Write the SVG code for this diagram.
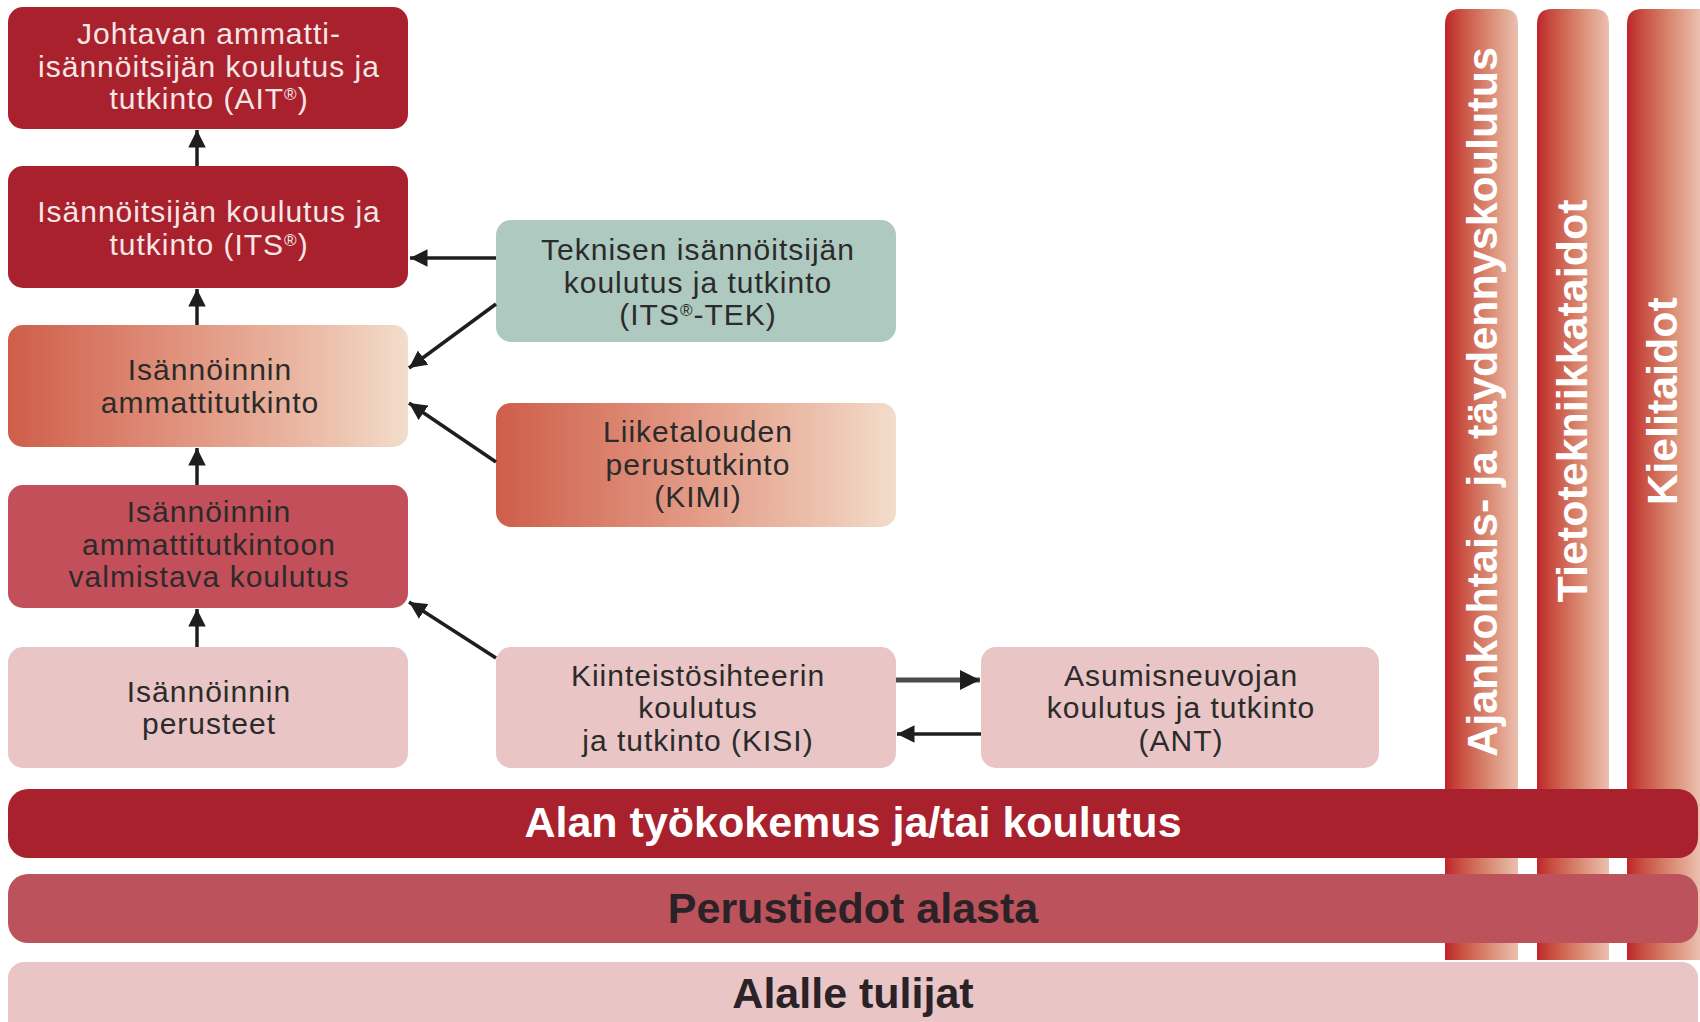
<svg xmlns="http://www.w3.org/2000/svg" width="1700" height="1022" viewBox="0 0 1700 1022">
<defs>
<linearGradient id="gOrange" x1="0" y1="0" x2="1" y2="0">
<stop offset="0" stop-color="#CE5E4A"/>
<stop offset="0.45" stop-color="#E19580"/>
<stop offset="0.8" stop-color="#ECC0AC"/>
<stop offset="1" stop-color="#F3DDCB"/>
</linearGradient>
<linearGradient id="gBar" x1="0" y1="0" x2="1" y2="0">
<stop offset="0" stop-color="#C2222D"/>
<stop offset="0.1" stop-color="#C23A35"/>
<stop offset="0.2" stop-color="#C84C3F"/>
<stop offset="0.6" stop-color="#D98A72"/>
<stop offset="1" stop-color="#EBC0B0"/>
</linearGradient>
<marker id="ah" viewBox="0 0 10 10" refX="10" refY="5" markerWidth="5" markerHeight="5" markerUnits="strokeWidth" orient="auto">
<path d="M0,0 L10,5 L0,10 z" fill="#1E1E1E"/>
</marker>
<marker id="ahg" viewBox="0 0 10 10" refX="10" refY="5" markerWidth="4" markerHeight="4" markerUnits="strokeWidth" orient="auto">
<path d="M0,0 L10,5 L0,10 z" fill="#1E1E1E"/>
</marker>
</defs>
<style>
.t{font-family:"Liberation Sans",Arial,sans-serif;font-size:30px;letter-spacing:1px;text-anchor:middle;fill:#2B2B2B}
.w{fill:#F6E6E6}
.b{font-family:"Liberation Sans",Arial,sans-serif;font-weight:bold;font-size:43px;text-anchor:middle}
.sup{font-size:17px;baseline-shift:super}
.dark{fill:#A9212D}
.pink{fill:#E9C5C6}
.mid{fill:#C24F5A}
.teal{fill:#AEC9BF}
.con{stroke:#1E1E1E;stroke-width:3.5;fill:none;marker-end:url(#ah)}
</style>
<rect width="1700" height="1022" fill="#FFFFFF"/>

<g id="vbar-ajankohtais">
<path d="M1445,960 V24 Q1445,9 1460,9 H1503 Q1518,9 1518,24 V960 Z" fill="url(#gBar)"/>
<text class="b" fill="#FFFFFF" transform="translate(1497,402) rotate(-90)">Ajankohtais- ja täydennyskoulutus</text>
</g>
<g id="vbar-tieto">
<path d="M1537,960 V24 Q1537,9 1552,9 H1594 Q1609,9 1609,24 V960 Z" fill="url(#gBar)"/>
<text class="b" fill="#FFFFFF" transform="translate(1587,401) rotate(-90)">Tietotekniikkataidot</text>
</g>
<g id="vbar-kieli">
<path d="M1627,960 V24 Q1627,9 1642,9 H1700 V960 Z" fill="url(#gBar)"/>
<text class="b" fill="#FFFFFF" transform="translate(1677,401) rotate(-90)">Kielitaidot</text>
</g>

<g id="bar-alan">
<rect x="8" y="789" width="1690" height="69" rx="20" class="dark"/>
<text class="b" x="853" y="837" fill="#FFFFFF">Alan työkokemus ja/tai koulutus</text>
</g>
<g id="bar-perustiedot">
<rect x="8" y="874" width="1690" height="69" rx="20" fill="#BC525B"/>
<text class="b" x="853" y="923" fill="#2A2226">Perustiedot alasta</text>
</g>
<g id="bar-alalle">
<rect x="8" y="962" width="1690" height="80" rx="16" class="pink"/>
<text class="b" x="853" y="1008" fill="#2A2226">Alalle tulijat</text>
</g>

<g id="node-ait">
<rect x="8" y="7" width="400" height="122" rx="15" class="dark"/>
<text class="t w" x="209" y="44">Johtavan ammatti-</text>
<text class="t w" x="209" y="76.5">isännöitsijän koulutus ja</text>
<text class="t w" x="209" y="109">tutkinto (AIT<tspan class="sup">®</tspan>)</text>
</g>
<g id="node-its">
<rect x="8" y="166" width="400" height="122" rx="15" class="dark"/>
<text class="t w" x="209" y="222">Isännöitsijän koulutus ja</text>
<text class="t w" x="209" y="254.5">tutkinto (ITS<tspan class="sup">®</tspan>)</text>
</g>
<g id="node-ammattitutkinto">
<rect x="8" y="325" width="400" height="122" rx="15" fill="url(#gOrange)"/>
<text class="t" x="210" y="380">Isännöinnin</text>
<text class="t" x="210" y="412.5">ammattitutkinto</text>
</g>
<g id="node-valmistava">
<rect x="8" y="485" width="400" height="123" rx="15" class="mid"/>
<text class="t" x="209" y="522">Isännöinnin</text>
<text class="t" x="209" y="554.5">ammattitutkintoon</text>
<text class="t" x="209" y="587">valmistava koulutus</text>
</g>
<g id="node-perusteet">
<rect x="8" y="647" width="400" height="121" rx="15" class="pink"/>
<text class="t" x="209" y="702">Isännöinnin</text>
<text class="t" x="209" y="734">perusteet</text>
</g>
<g id="node-tek">
<rect x="496" y="220" width="400" height="122" rx="15" class="teal"/>
<text class="t" x="698" y="260">Teknisen isännöitsijän</text>
<text class="t" x="698" y="292.5">koulutus ja tutkinto</text>
<text class="t" x="698" y="325">(ITS<tspan class="sup">®</tspan>-TEK)</text>
</g>
<g id="node-kimi">
<rect x="496" y="403" width="400" height="124" rx="15" fill="url(#gOrange)"/>
<text class="t" x="698" y="442">Liiketalouden</text>
<text class="t" x="698" y="474.5">perustutkinto</text>
<text class="t" x="698" y="507">(KIMI)</text>
</g>
<g id="node-kisi">
<rect x="496" y="647" width="400" height="121" rx="15" class="pink"/>
<text class="t" x="698" y="686">Kiinteistösihteerin</text>
<text class="t" x="698" y="718">koulutus</text>
<text class="t" x="698" y="750.5">ja tutkinto (KISI)</text>
</g>
<g id="node-ant">
<rect x="981" y="647" width="398" height="121" rx="15" class="pink"/>
<text class="t" x="1181" y="686">Asumisneuvojan</text>
<text class="t" x="1181" y="718">koulutus ja tutkinto</text>
<text class="t" x="1181" y="750.5">(ANT)</text>
</g>

<g id="connectors">
<line class="con" x1="197" y1="166" x2="197" y2="130"/>
<line class="con" x1="197" y1="325" x2="197" y2="289"/>
<line class="con" x1="197" y1="485" x2="197" y2="448"/>
<line class="con" x1="197" y1="647" x2="197" y2="609"/>
<line class="con" x1="496" y1="258" x2="410" y2="258"/>
<line class="con" x1="496" y1="304" x2="409" y2="368"/>
<line class="con" x1="496" y1="462" x2="409" y2="403"/>
<line class="con" x1="496" y1="658" x2="409" y2="602"/>
<line x1="896" y1="680" x2="980" y2="680" stroke="#4A4A4A" stroke-width="5" marker-end="url(#ahg)"/>
<line class="con" x1="981" y1="734" x2="897" y2="734"/>
</g>
</svg>
